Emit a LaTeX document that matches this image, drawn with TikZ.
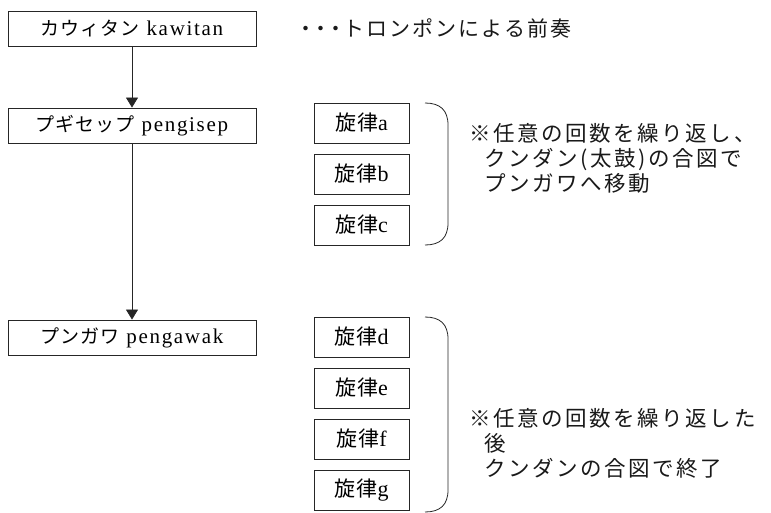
\documentclass[tikz,border=0pt]{standalone}
\usepackage{fontspec}
\setmainfont{Liberation Serif}[LetterSpace=8]
\newfontfamily\jp[LetterSpace=5]{Noto Sans CJK JP}
\newfontfamily\jpi[LetterSpace=10]{Noto Sans CJK JP}
\newfontfamily\jpn[LetterSpace=12]{Noto Sans CJK JP}
\newcommand{\jbox}[1]{{\jp\fontsize{19}{21}\selectfont #1}}
\newcommand{\jmel}[1]{{\jp\fontsize{21}{23}\selectfont #1}}
\usetikzlibrary{arrows.meta}
\begin{document}
\begin{tikzpicture}[x=1pt,y=-1pt,
  linecol/.style={draw=black!85},
  mainbox/.style={linecol, line width=0.9pt, minimum width=248pt, minimum height=35pt, inner sep=0pt, font=\fontsize{21}{23}\selectfont},
  melbox/.style={linecol, line width=0.9pt, minimum width=95pt, minimum height=40pt, inner sep=0pt, font=\fontsize{22}{24}\selectfont},
  arr/.style={linecol, line width=0.8pt, -{Triangle[width=12pt,length=10pt]}},
  brace/.style={linecol, line width=0.8pt},
  note/.style={anchor=west, align=left, inner sep=0pt, font=\jpn\fontsize{21.5}{25}\selectfont, text=black!90}
]
\useasboundingbox (0,0) rectangle (771,512);
\fill[white] (0,0) rectangle (771,512);
% main stages
\node[mainbox] (kaw) at (132,29) {\jbox{カウィタン}\ kawitan};
\node[mainbox] (pen) at (132,125.5) {\jbox{プギセップ}\ pengisep};
\node[mainbox] (pga) at (132,337.5) {\jbox{プンガワ}\ pengawak};
\draw[arr] (kaw.south) -- (pen.north);
\draw[arr] (pen.south) -- (pga.north);
% intro note
\node[anchor=west, inner sep=0pt, font=\jpi\fontsize{21}{23}\selectfont, text=black!90] (intro) at (298,28) {\makebox[15pt]{・}\makebox[15pt]{・}\makebox[15pt]{・}トロンポンによる前奏};
% melodies
\node[melbox] (ma) at (361.5,123) {\jmel{旋律}a};
\node[melbox] (mb) at (361.5,174) {\jmel{旋律}b};
\node[melbox] (mc) at (361.5,225) {\jmel{旋律}c};
\node[melbox] (md) at (361.5,337) {\jmel{旋律}d};
\node[melbox] (me) at (361.5,388) {\jmel{旋律}e};
\node[melbox] (mf) at (361.5,439) {\jmel{旋律}f};
\node[melbox] (mg) at (361.5,490) {\jmel{旋律}g};
% braces
\draw[brace] (425,103) .. controls (440,103) and (448,110) .. (448,125) -- (448,223) .. controls (448,238) and (440,245) .. (425,245);
\draw[brace] (425,317) .. controls (440,317) and (448,324) .. (448,339) -- (448,490) .. controls (448,505) and (440,512) .. (425,512);
% notes
\node[note] (n1) at (469,158) {※任意の回数を繰り返し、\\\hspace*{0.7em}クンダン(太鼓)の合図で\\\hspace*{0.7em}プンガワへ移動};
\node[note] (n2) at (469,443) {※任意の回数を繰り返した\\\hspace*{0.7em}後\\\hspace*{0.7em}クンダンの合図で終了};
\end{tikzpicture}
\end{document}
